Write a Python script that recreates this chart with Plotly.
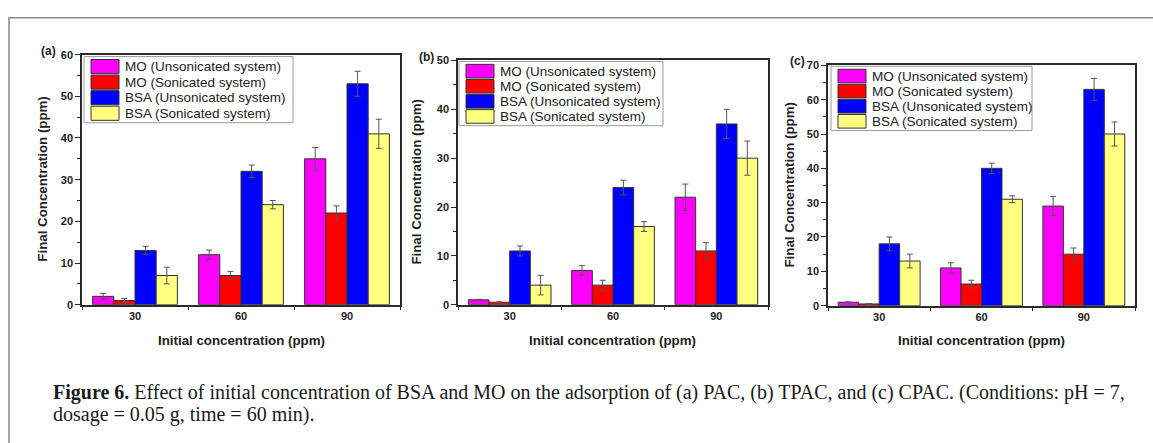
import plotly.graph_objects as go

W, H = 1153, 443

# ---------------- data ----------------
categories = ["30", "60", "90"]
series_names = ["MO (Unsonicated system)", "MO (Sonicated system)",
                "BSA (Unsonicated system)", "BSA (Sonicated system)"]
series_colors = ["#FF00FF", "#FF0000", "#0000FF", "#FFFF80"]

# (a) PAC
pac_mo_unson = [2, 12, 35]
pac_mo_unson_err = [0.7, 1.1, 2.7]
pac_mo_son = [1, 7, 22]
pac_mo_son_err = [0.5, 1.0, 1.7]
pac_bsa_unson = [13, 32, 53]
pac_bsa_unson_err = [1.0, 1.5, 3.0]
pac_bsa_son = [7, 24, 41]
pac_bsa_son_err = [2.0, 1.0, 3.5]

# (b) TPAC
tpac_mo_unson = [1, 7, 22]
tpac_mo_unson_err = [0.1, 1.0, 2.7]
tpac_mo_son = [0.5, 4, 11]
tpac_mo_son_err = [0.1, 1.0, 1.7]
tpac_bsa_unson = [11, 24, 37]
tpac_bsa_unson_err = [1.0, 1.5, 3.0]
tpac_bsa_son = [4, 16, 30]
tpac_bsa_son_err = [2.0, 1.0, 3.5]

# (c) CPAC
cpac_mo_unson = [1, 11, 29]
cpac_mo_unson_err = [0.1, 1.5, 2.8]
cpac_mo_son = [0.5, 6.3, 15]
cpac_mo_son_err = [0.1, 1.1, 1.8]
cpac_bsa_unson = [18, 40, 63]
cpac_bsa_unson_err = [2.0, 1.5, 3.2]
cpac_bsa_son = [13, 31, 50]
cpac_bsa_son_err = [2.0, 1.0, 3.5]

panel_labels = ["(a)", "(b)", "(c)"]
y_max = [60, 50, 70]
x_title = "Initial concentration (ppm)"
y_title = "Final Concentration (ppm)"
caption_line1 = ("<b>Figure 6.</b> Effect of initial concentration of BSA and MO on the adsorption of "
                 "(a) PAC, (b) TPAC, and (c) CPAC. (Conditions: pH = 7,")
caption_line2 = "dosage = 0.05 g, time = 60 min)."

panels = [
    [(pac_mo_unson, pac_mo_unson_err), (pac_mo_son, pac_mo_son_err),
     (pac_bsa_unson, pac_bsa_unson_err), (pac_bsa_son, pac_bsa_son_err)],
    [(tpac_mo_unson, tpac_mo_unson_err), (tpac_mo_son, tpac_mo_son_err),
     (tpac_bsa_unson, tpac_bsa_unson_err), (tpac_bsa_son, tpac_bsa_son_err)],
    [(cpac_mo_unson, cpac_mo_unson_err), (cpac_mo_son, cpac_mo_son_err),
     (cpac_bsa_unson, cpac_bsa_unson_err), (cpac_bsa_son, cpac_bsa_son_err)],
]

# ---------------- layout geometry (pixels) ----------------
def px(x):
    return x / W

def py(y):
    return 1 - y / H

# plot boxes: left, right, top, bottom
boxes = [(82, 400, 50, 307), (458, 768, 56, 307), (828, 1135, 61, 308)]
ytitle_x = [43, 417, 790]
label_pos = [(48, 46), (426, 52), (797, 57)]
# legend boxes: left, right, top, bottom
legend_boxes = [(84, 293, 52, 120), (459, 663, 57, 123), (831, 1032, 62, 128)]

AX_COLOR = "#2a2a2a"
FONT = "Liberation Sans, Arial, sans-serif"

fig = go.Figure()
for p, panel in enumerate(panels):
    xa = "x" if p == 0 else f"x{p+1}"
    ya = "y" if p == 0 else f"y{p+1}"
    for s, (vals, errs) in enumerate(panel):
        fig.add_trace(go.Bar(
            x=categories, y=vals, name=series_names[s],
            marker=dict(color=series_colors[s], line=dict(color="#333333", width=1)),
            error_y=dict(type="data", array=errs, visible=True,
                         color="#555555", thickness=1, width=3),
            xaxis=xa, yaxis=ya, showlegend=False,
            offsetgroup=str(s),
        ))

layout = dict(
    width=W, height=H,
    margin=dict(l=0, r=0, t=0, b=0),
    paper_bgcolor="white", plot_bgcolor="white",
    barmode="group", bargap=0.2, bargroupgap=0,
    showlegend=False,
    font=dict(family=FONT, color="#222222"),
)

shapes = []
annotations = []

# outer frame
shapes.append(dict(type="rect", xref="paper", yref="paper",
                   x0=px(9), x1=px(1170), y0=py(12), y1=py(460),
                   line=dict(color="#8a8a8a", width=1.5), layer="below"))

for p in range(3):
    l, r, t, b = boxes[p]
    xk = "xaxis" if p == 0 else f"xaxis{p+1}"
    yk = "yaxis" if p == 0 else f"yaxis{p+1}"
    ya = "y" if p == 0 else f"y{p+1}"
    layout[xk] = dict(
        domain=[px(l), px(r)], anchor=ya, type="category",
        range=[-0.5, 2.5], showline=True, mirror=True, linecolor=AX_COLOR, linewidth=1.5,
        ticks="outside", ticklen=4, tickwidth=1.2, tickcolor=AX_COLOR, tickson="boundaries",
        tickfont=dict(family=FONT, size=11, weight="bold", color="#222222"),
        showgrid=False, zeroline=False, fixedrange=True,
    )
    layout[yk] = dict(
        domain=[py(b), py(t)], anchor="x" if p == 0 else f"x{p+1}",
        range=[0, y_max[p]], dtick=10, showline=True, mirror=True,
        linecolor=AX_COLOR, linewidth=1.5,
        ticks="outside", ticklen=5, tickwidth=1.2, tickcolor=AX_COLOR,
        minor=dict(ticks="outside", ticklen=3, dtick=5, tickwidth=1, tickcolor=AX_COLOR, showgrid=False),
        tickfont=dict(family=FONT, size=11, weight="bold", color="#222222"),
        showgrid=False, zeroline=False, fixedrange=True,
    )
    # axis titles
    annotations.append(dict(text=f"<b>{x_title}</b>", xref="paper", yref="paper",
                            x=px((l + r) / 2), y=py(344), showarrow=False,
                            xanchor="center", yanchor="middle",
                            font=dict(family=FONT, size=13.3, color="#222222")))
    annotations.append(dict(text=f"<b>{y_title}</b>", xref="paper", yref="paper",
                            x=px(ytitle_x[p]), y=py((t + b) / 2), showarrow=False,
                            textangle=-90, xanchor="center", yanchor="middle",
                            font=dict(family=FONT, size=13.3, color="#222222")))
    lx, ly = label_pos[p]
    annotations.append(dict(text=f"<b>{panel_labels[p]}</b>", xref="paper", yref="paper",
                            x=px(lx), y=py(ly), showarrow=False,
                            xanchor="center", yanchor="middle",
                            font=dict(family=FONT, size=12, color="#222222")))
    # legend (manual, Origin-style wide swatches)
    bl, br, bt, bb = legend_boxes[p]
    shapes.append(dict(type="rect", xref="paper", yref="paper",
                       x0=px(bl), x1=px(br), y0=py(bt), y1=py(bb),
                       line=dict(color="#9a9a9a", width=1), fillcolor="white"))
    row_h = (bb - bt - 4) / 4.0
    for s in range(4):
        y0 = bt + 2 + s * row_h + 1
        y1 = y0 + row_h - 1.5
        shapes.append(dict(type="rect", xref="paper", yref="paper",
                           x0=px(bl + 7), x1=px(bl + 35), y0=py(y0), y1=py(y1),
                           line=dict(color="#333333", width=1), fillcolor=series_colors[s]))
        annotations.append(dict(text=series_names[s], xref="paper", yref="paper",
                                x=px(bl + 39), y=py((y0 + y1) / 2), showarrow=False,
                                xanchor="left", yanchor="middle",
                                font=dict(family=FONT, size=13.5, color="#222222")))

# caption
CAP_FONT = "Liberation Serif, Times New Roman, serif"
annotations.append(dict(text=caption_line1, xref="paper", yref="paper",
                        x=px(51), y=py(397), showarrow=False, xanchor="left", yanchor="middle",
                        font=dict(family=CAP_FONT, size=20, color="#1a1a1a")))
annotations.append(dict(text=caption_line2, xref="paper", yref="paper",
                        x=px(51), y=py(420), showarrow=False, xanchor="left", yanchor="middle",
                        font=dict(family=CAP_FONT, size=20, color="#1a1a1a")))

layout["shapes"] = shapes
layout["annotations"] = annotations
fig.update_layout(**layout)
fig.write_html("out.html")
